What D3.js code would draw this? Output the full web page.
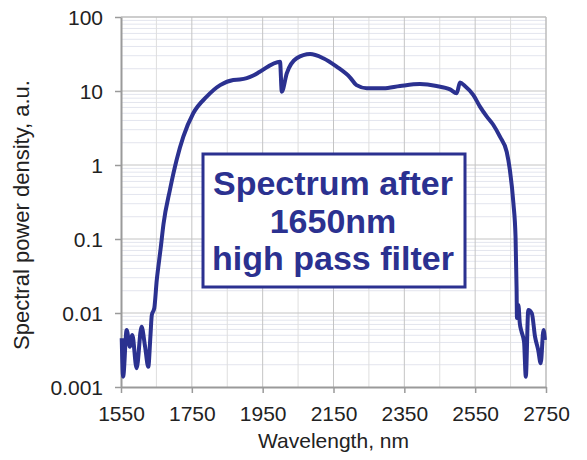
<!DOCTYPE html>
<html><head><meta charset="utf-8">
<script src="https://cdn.jsdelivr.net/npm/d3@7"></script>
<style>body{margin:0;background:#fff}svg{display:block}text{font-family:"Liberation Sans",Arial,sans-serif}</style>
</head><body>
<svg id="c" width="587" height="460"></svg>
<script>
const wavelength = [1552,1556,1566,1575,1582,1594,1608,1618,1627,1633,1637,1644,1651,1655,1662,1670,1688,1707,1726,1754,1792,1830,1867,1885,1905,1925,1942,1999,2004,2018,2046,2084,2121,2159,2197,2215,2244,2291,2338,2394,2441,2479,2498,2507,2521,2545,2564,2583,2601,2620,2639,2648,2658,2664,2667,2668,2672,2676,2681,2688,2693,2700,2710,2719,2728,2735,2743,2747];
const spectrum = [0.00455,0.00138,0.00589,0.00351,0.00505,0.00179,0.00653,0.00351,0.00188,0.00479,0.0094,0.0116,0.0279,0.0406,0.075,0.16,0.459,1.17,2.41,5.0,8.4,12.0,14.1,14.3,14.9,16.3,18.2,24.9,9.8,17.3,27.7,31.6,27.7,21.3,15.2,12.0,10.9,10.9,11.7,12.4,11.7,10.5,9.3,13.0,11.7,8.8,6.1,4.5,3.5,2.41,1.51,0.855,0.303,0.107,0.0205,0.00855,0.0128,0.00726,0.00558,0.00409,0.00138,0.011,0.0099,0.00479,0.00316,0.00209,0.00589,0.00431];
const xTicks = [1550,1750,1950,2150,2350,2550,2750];
const yTicks = [0.001,0.01,0.1,1,10,100];
const yTickLabels = ["0.001","0.01","0.1","1","10","100"];
const boxLines = ["Spectrum after","1650nm","high pass filter"];
const xTitle = "Wavelength, nm";
const yTitle = "Spectral power density, a.u.";

const svg = d3.select("#c");
const L=121,R=546,T=17,B=387;
const x = d3.scaleLinear().domain([1550,2750]).range([L,R]);
const y = d3.scaleLog().domain([0.001,100]).range([B,T]);
const blue="#2b3190";

// minor grid
const minorY=[];
for(let d=-3; d<2; d++) for(let k=2;k<10;k++) minorY.push(k*Math.pow(10,d));
svg.append("g").selectAll("line").data(minorY).join("line")
  .attr("x1",L).attr("x2",R).attr("y1",d=>y(d)).attr("y2",d=>y(d))
  .attr("stroke","#e3e5ee").attr("stroke-width",1);
const minorX=d3.range(1650,2750,200);
svg.append("g").selectAll("line").data(minorX).join("line")
  .attr("x1",d=>x(d)).attr("x2",d=>x(d)).attr("y1",T).attr("y2",B)
  .attr("stroke","#dedede").attr("stroke-width",1);
// major grid
svg.append("g").selectAll("line").data(xTicks.slice(1,-1)).join("line")
  .attr("x1",d=>x(d)).attr("x2",d=>x(d)).attr("y1",T).attr("y2",B)
  .attr("stroke","#c4c4c4").attr("stroke-width",1);
svg.append("g").selectAll("line").data(yTicks.slice(1,-1)).join("line")
  .attr("x1",L).attr("x2",R).attr("y1",d=>y(d)).attr("y2",d=>y(d))
  .attr("stroke","#c4c4c4").attr("stroke-width",1);
// border top/right
svg.append("line").attr("x1",L).attr("x2",R).attr("y1",T).attr("y2",T).attr("stroke","#bdbdbd").attr("stroke-width",1.5);
svg.append("line").attr("x1",R).attr("x2",R).attr("y1",T).attr("y2",B).attr("stroke","#bdbdbd").attr("stroke-width",1.5);

// axes
const xAxis = d3.axisBottom(x).tickValues(xTicks).tickSize(6).tickSizeOuter(0).tickFormat(d3.format("d"));
const gx = svg.append("g").attr("transform",`translate(0,${B})`).call(xAxis);
const yAxis = d3.axisLeft(y).tickValues(yTicks).tickSize(6).tickSizeOuter(0).tickFormat((d,i)=>yTickLabels[i]);
const gy = svg.append("g").attr("transform",`translate(${L},0)`).call(yAxis);
[gx,gy].forEach(g=>{
  g.select(".domain").attr("stroke","#9a9a9a").attr("stroke-width",2);
  g.selectAll(".tick line").attr("stroke","#9a9a9a").attr("stroke-width",1.5);
  g.selectAll(".tick text").attr("fill","#222").style("font-size","21px").style("font-family","'Liberation Sans',Arial,sans-serif");
});
gx.selectAll(".tick text").attr("dy","0").attr("y",34);
gy.selectAll(".tick text").attr("x",-18).attr("dy","0.35em");

// titles
svg.append("text").attr("x",(L+R)/2).attr("y",448).attr("text-anchor","middle")
  .attr("fill","#222").style("font-size","21px").text(xTitle);
svg.append("text").attr("transform",`translate(29,215) rotate(-90)`).attr("text-anchor","middle")
  .attr("fill","#222").style("font-size","22px").text(yTitle);

// line
const pts = wavelength.map((w,i)=>[w,spectrum[i]]);
svg.append("path").datum(pts)
  .attr("d",d3.line().x(d=>x(d[0])).y(d=>y(d[1])).curve(d3.curveMonotoneX))
  .attr("fill","none").attr("stroke",blue).attr("stroke-width",4).attr("stroke-linejoin","round");

// annotation box
svg.append("rect").attr("x",203).attr("y",154).attr("width",262).attr("height",133)
  .attr("fill","#fff").attr("stroke",blue).attr("stroke-width",3);
svg.append("g").selectAll("text").data(boxLines).join("text")
  .attr("x",333).attr("y",(d,i)=>195+i*37.5).attr("text-anchor","middle")
  .attr("fill",blue).style("font-size","34px").style("font-weight","bold").text(d=>d);
</script>
</body></html>
